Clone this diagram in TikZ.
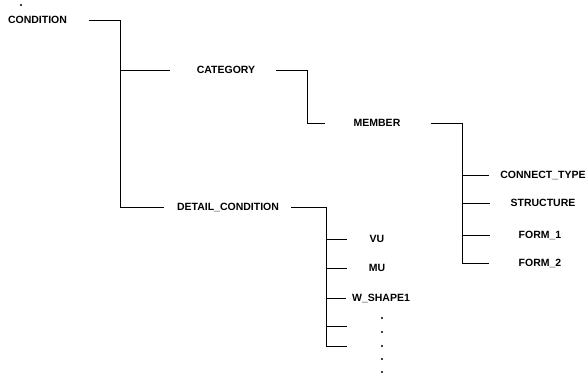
\documentclass[tikz,border=0pt]{standalone}
\usepackage{fontspec}
\setmainfont{Liberation Sans}
\usepackage{tikz}

\begin{document}
\begin{tikzpicture}[x=1pt, y=-1pt, line width=0.9pt,
    lbl/.style={font=\fontsize{10.5}{12}\selectfont\bfseries, inner sep=0pt,
      text height=7.5pt, text depth=0pt}]
  \useasboundingbox (0,0) rectangle (587,374);
  % Labels
  \node[lbl] (cond) at (37.5,20) {CONDITION};
  \node[lbl] (cat) at (226,70) {CATEGORY};
  \node[lbl] (det) at (228,207) {DETAIL\_CONDITION};
  \node[lbl] (mem) at (377,123) {MEMBER};
  \node[lbl] (ct) at (543,175) {CONNECT\_TYPE};
  \node[lbl] (str) at (543,203) {STRUCTURE};
  \node[lbl] (f1) at (540,235) {FORM\_1};
  \node[lbl] (f2) at (540,263) {FORM\_2};
  \node[lbl] (vu) at (377,239) {VU};
  \node[lbl] (mu) at (377,268) {MU};
  \node[lbl] (ws) at (381,298) {W\_SHAPE1};
  % Junctions and free ends
  \coordinate (jA) at (120,20);
  \coordinate (jB) at (307,70);
  \coordinate (jC) at (462,123);
  \coordinate (jD) at (326,207);
  \coordinate (e1) at (347,326);
  \coordinate (e2) at (347,346);
  % Condition -> category / detail
  \draw ([xshift=22pt]cond.east) -| (jA |- det) -- ([xshift=-13pt]det.west);
  \draw (jA |- cat) -- ([xshift=-26pt]cat.west);
  % Category -> member
  \draw ([xshift=20pt]cat.east) -| (jB |- mem) -- ([xshift=-28pt]mem.west);
  % Member -> attributes
  \draw ([xshift=30pt]mem.east) -| (jC |- f2) -- ([xshift=-29pt]f2.west);
  \foreach \n/\s in {ct/10.5, str/20.6, f1/28.7}
    \draw (jC |- \n) -- ([xshift=-\s pt]\n.west);
  % Detail condition -> items
  \draw ([xshift=12pt]det.east) -| (jD |- e2) -- (e2);
  \draw (jD |- e1) -- (e1);
  \foreach \n/\s in {vu/22, mu/21, ws/6}
    \draw (jD |- \n) -- ([xshift=-\s pt]\n.west);
  % Dots
  \fill (21,5) circle (1.2pt);
  \foreach \y in {318,332,346,359,372}
    \fill (382,\y) circle (1.2pt);
\end{tikzpicture}
\end{document}
